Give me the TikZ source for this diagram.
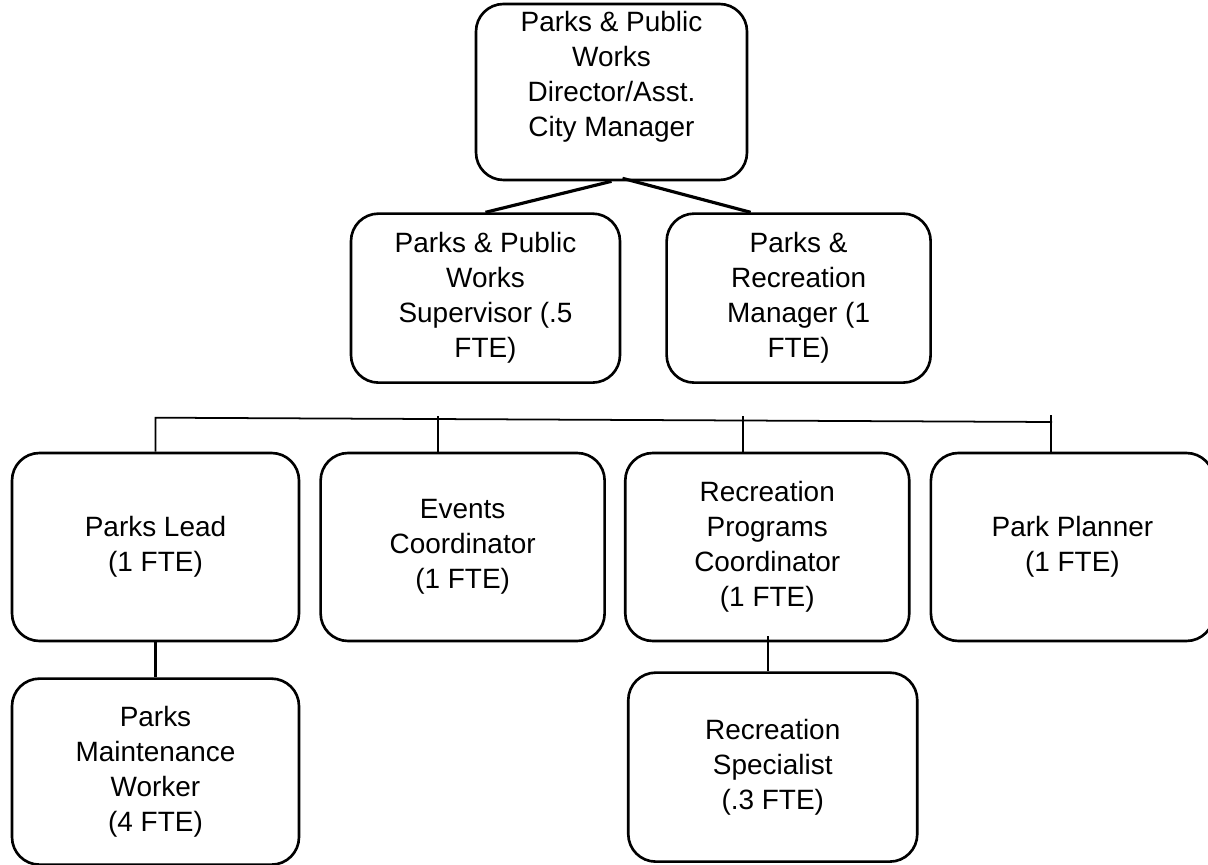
\documentclass[tikz,border=0pt]{standalone}
\usepackage{fontspec}
\setmainfont{Liberation Sans}
\usepackage{tikz}
\usetikzlibrary{positioning, calc}
\tikzset{
  orgfont/.style={font=\fontsize{15.9pt}{19.9pt}\selectfont},
  orgbox/.style={
    rectangle, rounded corners=0.55cm, draw=black, line width=1.5pt,
    align=center, inner sep=2pt, orgfont
  },
  toplink/.style={draw=black, line width=1.8pt},
  buslink/.style={draw=black, line width=1pt},
  droplink/.style={draw=black, line width=1.2pt}
}

\begin{document}
\begin{tikzpicture}
  \useasboundingbox (0,0) rectangle (24.16,-17.3);

  % Director and managers
  \node[orgbox, minimum width=5.42cm, minimum height=3.52cm] (director) at (12.23,-1.84) {};
  \node[orgfont, align=center] (directorText) at ([yshift=0.3cm]director.center) {Parks \& Public\\Works\\Director/Asst.\\City Manager};

  \node[orgbox, minimum width=5.38cm, minimum height=3.38cm, below=0.62cm of director, xshift=-2.52cm] (supervisor) {Parks \& Public\\Works\\Supervisor (.5\\FTE)};
  \node[orgbox, minimum width=5.28cm, minimum height=3.38cm, right=0.88cm of supervisor] (manager) {Parks \&\\Recreation\\Manager (1\\FTE)};

  % Staff row
  \node[orgbox, minimum width=5.74cm, minimum height=3.76cm] (lead) at (3.11,-10.94) {Parks Lead\\(1 FTE)};
  \node[orgbox, minimum width=5.68cm, minimum height=3.76cm, right=0.38cm of lead] (events) {Events\\Coordinator\\(1 FTE)};
  \node[orgbox, minimum width=5.68cm, minimum height=3.76cm, right=0.36cm of events] (programs) {Recreation\\Programs\\Coordinator\\(1 FTE)};
  \node[orgbox, minimum width=5.66cm, minimum height=3.76cm, right=0.38cm of programs] (planner) {Park Planner\\(1 FTE)};

  % Part-time and field staff
  \node[orgbox, minimum width=5.74cm, minimum height=3.72cm, below=0.7cm of lead] (maintenance) {Parks\\Maintenance\\Worker\\(4 FTE)};
  \node[orgbox, minimum width=5.78cm, minimum height=3.78cm, below=0.58cm of programs, xshift=0.11cm] (specialist) {Recreation\\Specialist\\(.3 FTE)};

  % Connectors
  \draw[toplink] (director.south) -- (supervisor.north);
  \draw[toplink] ([xshift=0.22cm, yshift=0.06cm]director.south) -- ([xshift=-0.96cm]manager.north);

  \coordinate (busEnd) at (21.04,-8.44);
  \draw[buslink] (lead.north) -- ++(0,0.68) -- (busEnd);
  \draw[buslink] ([xshift=-0.5cm]events.north) -- ++(0,0.72);
  \draw[buslink] ([xshift=-0.48cm]programs.north) -- ++(0,0.72);
  \draw[buslink] ([xshift=-0.43cm]planner.north) -- ++(0,0.74);

  \draw[droplink] (lead) -- (maintenance);
  \draw[droplink] ([yshift=0.12cm]programs.south -| specialist.north) ++(-0.09,0) -- ([xshift=-0.09cm]specialist.north);

\end{tikzpicture}
\end{document}
